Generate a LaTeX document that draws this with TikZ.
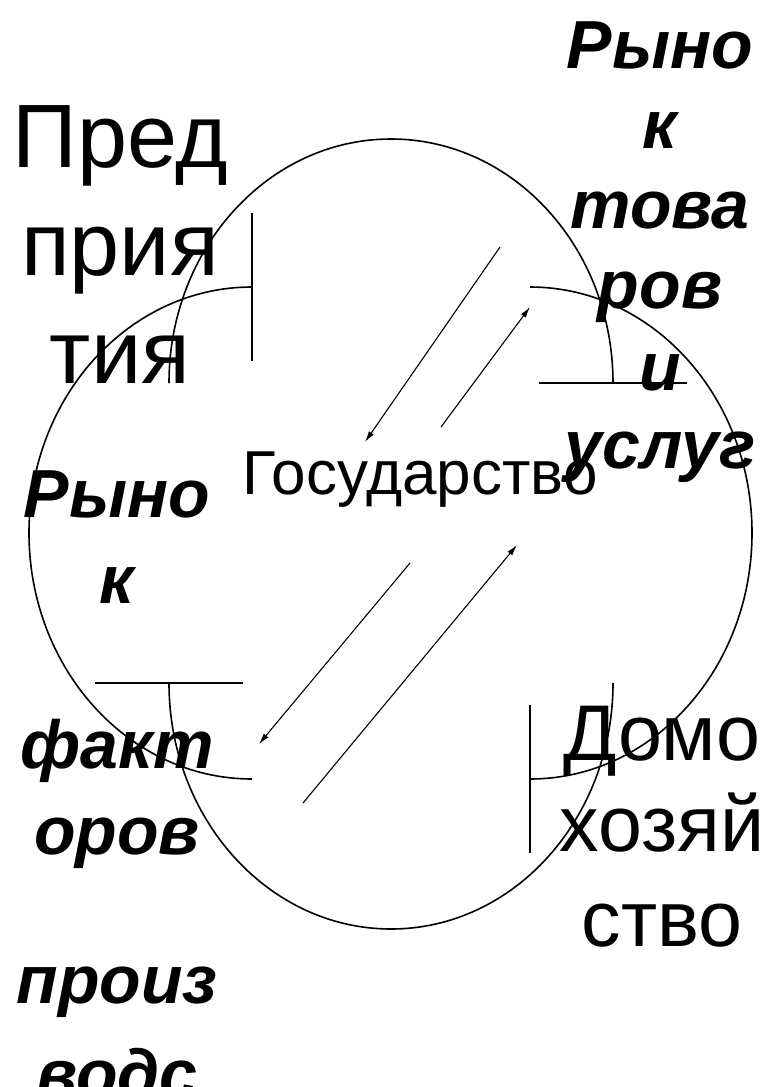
\documentclass[tikz,border=0pt]{standalone}
\usepackage{fontspec}
\setmainfont{Liberation Sans}
\usetikzlibrary{arrows.meta}

\tikzset{
  loopline/.style={line width=1.6pt},
  tickline/.style={line width=1.6pt},
  flow/.style={line width=1.1pt, -{Latex[length=11pt,width=6pt]}},
  agent/.style={anchor=base, font=\fontsize{90}{108}\selectfont},
  house/.style={anchor=base, font=\fontsize{79}{95}\selectfont},
  market/.style={anchor=base, font=\fontsize{68}{82}\selectfont\bfseries\itshape},
}

\begin{document}
\begin{tikzpicture}[x=1pt,y=-1pt]
    \useasboundingbox (0,0) rectangle (763,1087);

    % Loops
    \draw[loopline] (169,383) arc[start angle=180, end angle=360, x radius=222, y radius=244];
    \draw[loopline] (169,683) arc[start angle=180, end angle=0, x radius=222, y radius=246];
    \draw[loopline] (252,287) arc[start angle=270, end angle=90, x radius=223, y radius=246];
    \draw[loopline] (530,287) arc[start angle=270, end angle=450, x radius=222, y radius=246];

    % Ticks
    \draw[tickline] (252,213) -- (252,361);
    \draw[tickline] (539,383) -- (687,383);
    \draw[tickline] (95,683) -- (243,683);
    \draw[tickline] (530,705) -- (530,853);

    % Flows
    \coordinate (1s) at (500,247);
    \coordinate (1e) at (365,442);
    \coordinate (2s) at (441,427);
    \coordinate (2e) at (530,307);
    \coordinate (3s) at (410,563);
    \coordinate (3e) at (259,744);
    \coordinate (4s) at (303,803);
    \coordinate (4e) at (517,545);
    \draw[flow] (1s) -- (1e);
    \draw[flow] (2s) -- (2e);
    \draw[flow] (3s) -- (3e);
    \draw[flow] (4s) -- (4e);

    % Agents
    \node[agent] (f1) at (120,167) {Пред};
    \node[agent] (f2) at (120,275) {прия};
    \node[agent] (f3) at (120,383) {тия};

    \node[anchor=base, font=\fontsize{62}{74}\selectfont] (gov) at (420,494) {Государство};

    \node[house] (h1) at (662,760) {Домо};
    \node[house] (h2) at (662,851) {хозяй};
    \node[house] (h3) at (662,946) {ство};

    % Markets
    \node[market] (g1) at (660,68) {Рыно};
    \node[market] (g2) at (660,148) {к};
    \node[market] (g3) at (660,228) {това};
    \node[market] (g4) at (660,308) {ров};
    \node[market] (g5) at (660,390) {и};
    \node[market] (g6) at (660,468) {услуг};

    \node[market] (r1) at (117,517) {Рыно};
    \node[market] (r2) at (117,603) {к};
    \node[market] (r3) at (117,768) {факт};
    \node[market] (r4) at (117,854) {оров};
    \node[market] (r5) at (117,1003) {произ};
    \node[market] (r6) at (117,1097) {водс};
\end{tikzpicture}
\end{document}
